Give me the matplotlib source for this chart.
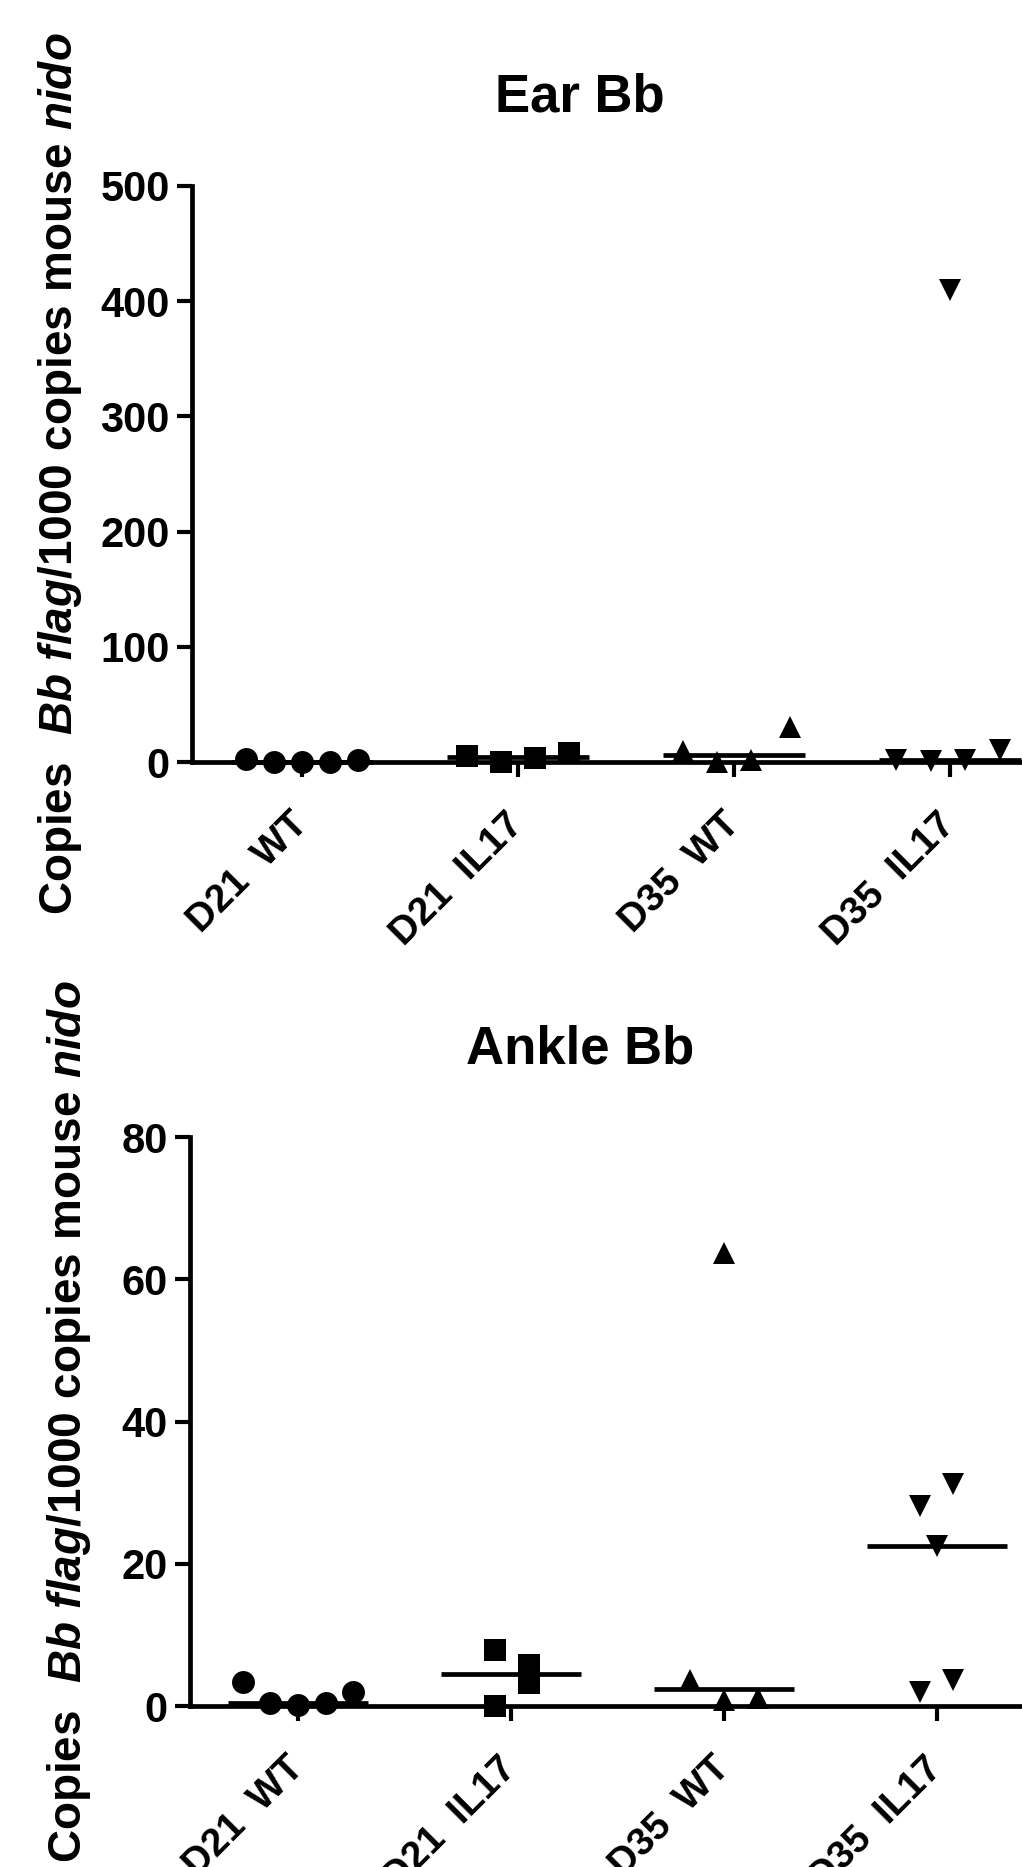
import numpy as np
import matplotlib
matplotlib.use("Agg")
import matplotlib.pyplot as plt
from matplotlib.transforms import ScaledTranslation

plt.rcParams['font.family'] = ['Liberation Sans', 'DejaVu Sans']
plt.rcParams['font.weight'] = 'bold'
plt.rcParams['mathtext.fontset'] = 'custom'
plt.rcParams['mathtext.rm'] = 'Liberation Sans:bold'
plt.rcParams['mathtext.bf'] = 'Liberation Sans:bold'
plt.rcParams['mathtext.it'] = 'Liberation Sans:bold:italic'

# ---------------- data ----------------
categories = ["D21  WT", "D21  IL17", "D35  WT", "D35  IL17"]

ear_d21_wt = [2.3, 0.3, 0.0, 0.3, 1.4]
ear_d21_il17 = [4.9, 0.2, 3.3, 7.8]
ear_d35_wt = [9.8, 0.0, 2.0, 30.0]
ear_d35_il17 = [1.5, 1.0, 410.0, 1.5, 10.0]

ankle_d21_wt = [3.4, 0.4, 0.1, 0.4, 2.0]
ankle_d21_il17 = [7.9, 0.0, 5.7, 3.2]
ankle_d35_wt = [63.7, 3.7, 0.8, 1.1]
ankle_d35_il17 = [31.2, 28.1, 22.5, 2.0, 3.6]

ear_yticks = [0, 100, 200, 300, 400, 500]
ankle_yticks = [0, 20, 40, 60, 80]

# ---------------- layout (horizontal spread of points) ----------------
ear_offsets = [[-0.26, -0.13, 0.0, 0.13, 0.26],
               [-0.236, -0.079, 0.079, 0.236],
               [-0.236, -0.08, 0.08, 0.26],
               [-0.25, -0.09, 0.0, 0.07, 0.23]]
ankle_offsets = [[-0.26, -0.13, 0.0, 0.13, 0.26],
                 [-0.075, -0.075, 0.085, 0.085],
                 [0.0, -0.16, 0.0, 0.16],
                 [0.075, -0.08, 0.0, -0.08, 0.075]]
markers = ['o', 's', '^', 'v']

W, H = 1022, 1867
fig = plt.figure(figsize=(W / 100, H / 100), dpi=100)

LW = 3.4
ylabel = r'$\mathrm{Copies\ \ }\mathit{Bb\ flag}\mathrm{/1000\ copies\ mouse\ }\mathit{nido}$'


def panel(rect, groups, offsets, yticks, ymax, xlim, title, title_xy, label_x, pad):
    ax = fig.add_axes(rect)
    for i, (vals, offs, m) in enumerate(zip(groups, offsets, markers)):
        xs = [i + o for o in offs]
        ax.plot(xs, vals, linestyle='none', marker=m, markersize=16.5,
                color='black', markeredgewidth=0, clip_on=False, zorder=5)
        med = float(np.median(vals))
        ax.hlines(med, i - 0.33, i + 0.33, color='black', linewidth=LW,
                  zorder=4, clip_on=False)
    ax.set_xlim(*xlim)
    ax.set_ylim(0, ymax)
    ax.set_yticks(yticks)
    ax.set_yticklabels([str(t) for t in yticks], fontsize=30, fontweight='bold')
    ax.set_xticks(range(len(categories)))
    ax.set_xticklabels(categories, fontsize=28, fontweight='bold')
    shift = ScaledTranslation(-9 / 100, 0, fig.dpi_scale_trans)
    for lab in ax.get_xticklabels():
        lab.set_rotation(45)
        lab.set_ha('right')
        lab.set_va('center')
        lab.set_rotation_mode('anchor')
        lab.set_transform(lab.get_transform() + shift)
    ax.tick_params(axis='y', direction='out', length=11, width=3, pad=5)
    ax.tick_params(axis='x', direction='out', length=11, width=3, pad=pad)
    for s in ['top', 'right']:
        ax.spines[s].set_visible(False)
    for s in ['left', 'bottom']:
        ax.spines[s].set_linewidth(LW)
    ax.set_ylabel(ylabel, fontsize=33)
    ax.yaxis.set_label_coords(label_x, 0.5)
    fig.text(title_xy[0] / W, 1 - title_xy[1] / H, title, fontsize=38,
             fontweight='bold', ha='center', va='center')
    return ax


# top panel: axes spans x 192..1022, y 186..762 px
panel([192 / W, 1 - 762 / H, (W - 192) / W, (762 - 186) / H],
      [ear_d21_wt, ear_d21_il17, ear_d35_wt, ear_d35_il17], ear_offsets,
      ear_yticks, 500, (-0.509, 3.333), "Ear Bb", (580, 97),
      (84 - 192) / (W - 192), 30)

# bottom panel: axes spans x 190..1022, y 1137..1706 px
panel([190 / W, 1 - 1706 / H, (W - 190) / W, (1706 - 1137) / H],
      [ankle_d21_wt, ankle_d21_il17, ankle_d35_wt, ankle_d35_il17], ankle_offsets,
      ankle_yticks, 80, (-0.507, 3.40), "Ankle Bb", (580, 1050),
      (93 - 190) / (W - 190), 30)

fig.savefig("out.png", dpi=100)
